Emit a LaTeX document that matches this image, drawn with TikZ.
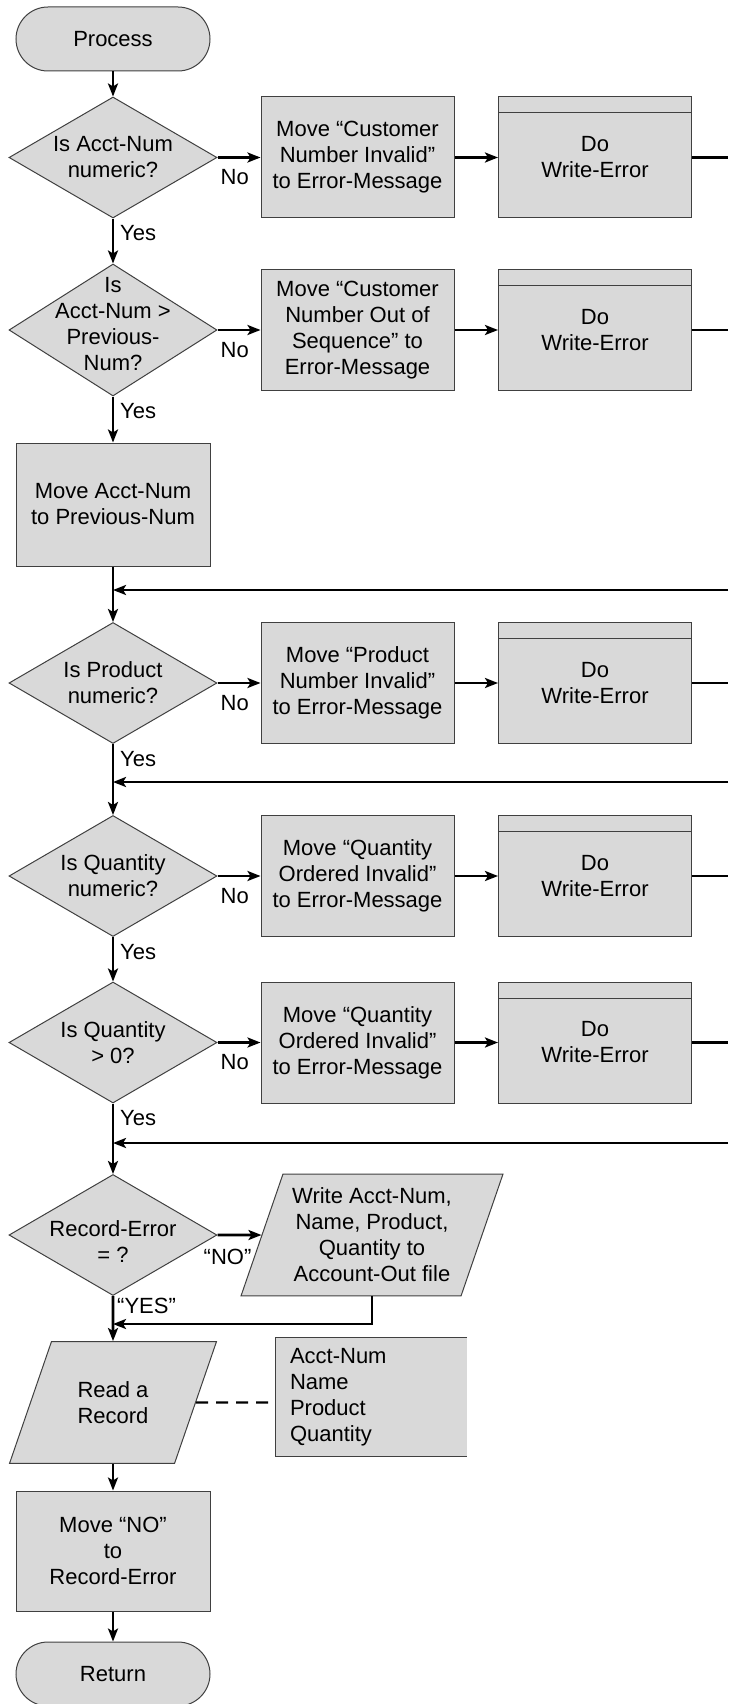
\documentclass[tikz,border=0pt]{standalone}
\usepackage{fontspec}
\setmainfont{Liberation Sans}
\usetikzlibrary{shapes.geometric,arrows.meta}
\definecolor{boxfill}{RGB}{217,217,217}
\definecolor{boxline}{RGB}{64,64,64}

\begin{document}
\begin{tikzpicture}[
  x=1pt, y=-1pt,
  txt/.style={font=\fontsize{22}{26}\selectfont, align=center},
  shp/.style={draw=boxline, fill=boxfill, line width=1pt, txt},
  term/.style={shp, rectangle, rounded corners=32pt, minimum width=194pt, minimum height=64pt},
  dec/.style={shp, diamond, minimum width=208pt, minimum height=121pt, inner sep=0pt},
  proc/.style={shp, rectangle, minimum width=193pt, minimum height=121pt, inner sep=2pt},
  subproc/.style={proc, path picture={\draw[boxline, line width=1pt]
      ([yshift=-16pt]path picture bounding box.north west) --
      ([yshift=-16pt]path picture bounding box.north east);}},
  io/.style={shp, trapezium, trapezium left angle=71, trapezium right angle=109,
      trapezium stretches body, inner xsep=0pt, text depth=0pt},
  ann/.style={fill=boxfill, txt, align=left, text width=163pt, inner xsep=14pt, minimum height=118pt},
  lbl/.style={txt, inner sep=1pt},
  ln/.style={line width=2.6pt},
  arr/.style={ln, -{Stealth[length=13pt, width=10pt, inset=3pt]}},
  dashln/.style={line width=2.2pt, dash pattern=on 12pt off 8pt}
]
\useasboundingbox (0,0) rectangle (728,1704);

% --- main column ---
\node[term] (start) at (113,39) {Process};
\node[dec] (d1) at (113,157.5) {};
\node[txt] at (d1) {Is Acct-Num\\numeric?};
\node[dec, minimum height=132pt] (d2) at (113,330) {};
\node[txt] at ([yshift=6pt]d2) {Is\\Acct-Num >\\Previous-\\Num?};
\node[proc, minimum width=194pt, minimum height=123pt] (mv) at (113,504.5) {Move Acct-Num\\to Previous-Num};
\node[dec] (d3) at (113,683) {};
\node[txt] at (d3) {Is Product\\numeric?};
\node[dec] (d4) at (113,876) {};
\node[txt] at (d4) {Is Quantity\\numeric?};
\node[dec] (d5) at (113,1042.5) {};
\node[txt] at (d5) {Is Quantity\\> 0?};
\node[dec] (d6) at (113,1235) {};
\node[txt] at ([yshift=-7pt]d6) {Record-Error\\= ?};
\node[io, inner ysep=40pt, minimum width=207pt] (p2) at (113,1402.5) {Read a\\Record};
\node[proc, minimum width=194pt, minimum height=120pt] (mno) at (113,1551) {Move “NO”\\to\\Record-Error};
\node[term] (ret) at (113,1674) {Return};

% --- error branches ---
\node[proc] (m1) at (357.5,157.5) {Move “Customer\\Number Invalid”\\to Error-Message};
\node[subproc] (w1) at (595,157.5) {Do\\Write-Error};
\node[proc] (m2) at (357.5,330) {Move “Customer\\Number Out of\\Sequence” to\\Error-Message};
\node[subproc] (w2) at (595,330) {Do\\Write-Error};
\node[proc] (m3) at (357.5,683) {Move “Product\\Number Invalid”\\to Error-Message};
\node[subproc] (w3) at (595,683) {Do\\Write-Error};
\node[proc] (m4) at (357.5,876) {Move “Quantity\\Ordered Invalid”\\to Error-Message};
\node[subproc] (w4) at (595,876) {Do\\Write-Error};
\node[proc] (m5) at (357.5,1042.5) {Move “Quantity\\Ordered Invalid”\\to Error-Message};
\node[subproc] (w5) at (595,1042.5) {Do\\Write-Error};

% --- output and record annotation ---
\node[io, inner ysep=14pt, minimum width=262pt] (p1) at (372,1235) {Write Acct-Num,\\Name, Product,\\Quantity to\\Account-Out file};
\node[ann] (ann) at (371.5,1397) {Acct-Num\\Name\\Product\\Quantity};
\draw[boxline, line width=1pt] (ann.north east) -| (ann.south west) -- (ann.south east);

% --- join points ---
\coordinate (edge) at (728,0);
\coordinate (j1) at (113,590);
\coordinate (j2) at (113,782);
\coordinate (j3) at (113,1143);
\coordinate (j4) at (113,1324);

% --- trunk ---
\draw[arr] (start) -- (d1);
\draw[arr] (d1) -- (d2);
\draw[arr] (d2) -- (mv);
\draw[arr] (mv) -- (d3);
\draw[arr] (d3) -- (d4);
\draw[arr] (d4) -- (d5);
\draw[arr] (d5) -- (d6);
\draw[arr] (d6) -- (p2);
\draw[arr] (p2) -- (mno);
\draw[arr] (mno) -- (ret);

% --- branches out and back ---
\draw[arr] (d1) -- (m1);
\draw[arr] (m1) -- (w1);
\draw[ln] (w1) -- (w1 -| edge);
\draw[arr] (d2) -- (m2);
\draw[arr] (m2) -- (w2);
\draw[ln] (w2) -- (w2 -| edge);
\draw[arr] (d3) -- (m3);
\draw[arr] (m3) -- (w3);
\draw[ln] (w3) -- (w3 -| edge);
\draw[arr] (d4) -- (m4);
\draw[arr] (m4) -- (w4);
\draw[ln] (w4) -- (w4 -| edge);
\draw[arr] (d5) -- (m5);
\draw[arr] (m5) -- (w5);
\draw[ln] (w5) -- (w5 -| edge);
\draw[arr] (edge |- j1) -- (j1);
\draw[arr] (edge |- j2) -- (j2);
\draw[arr] (edge |- j3) -- (j3);
\draw[arr] (d6) -- (p1);
\draw[arr] (p1.center |- p1.south) |- (j4);
\draw[dashln] (p2) -- (p2 -| ann.west);

% --- branch labels ---
\node[lbl, anchor=west] (no1) at ([xshift=2pt,yshift=-20pt]d1.east) {No};
\node[lbl, anchor=west] (no2) at ([xshift=2pt,yshift=-20pt]d2.east) {No};
\node[lbl, anchor=west] (no3) at ([xshift=2pt,yshift=-20pt]d3.east) {No};
\node[lbl, anchor=west] (no4) at ([xshift=2pt,yshift=-20pt]d4.east) {No};
\node[lbl, anchor=west] (no5) at ([xshift=2pt,yshift=-20pt]d5.east) {No};
\node[lbl, anchor=west] (yes1) at ([xshift=6pt,yshift=-15pt]d1.south) {Yes};
\node[lbl, anchor=west] (yes2) at ([xshift=6pt,yshift=-15pt]d2.south) {Yes};
\node[lbl, anchor=west] (yes3) at ([xshift=6pt,yshift=-15pt]d3.south) {Yes};
\node[lbl, anchor=west] (yes4) at ([xshift=6pt,yshift=-15pt]d4.south) {Yes};
\node[lbl, anchor=west] (yes5) at ([xshift=6pt,yshift=-15pt]d5.south) {Yes};
\node[lbl, anchor=west] (no6) at ([xshift=-15pt,yshift=-22pt]d6.east) {“NO”};
\node[lbl, anchor=west] (yes6) at ([xshift=3pt,yshift=-10pt]d6.south) {“YES”};

\end{tikzpicture}
\end{document}
